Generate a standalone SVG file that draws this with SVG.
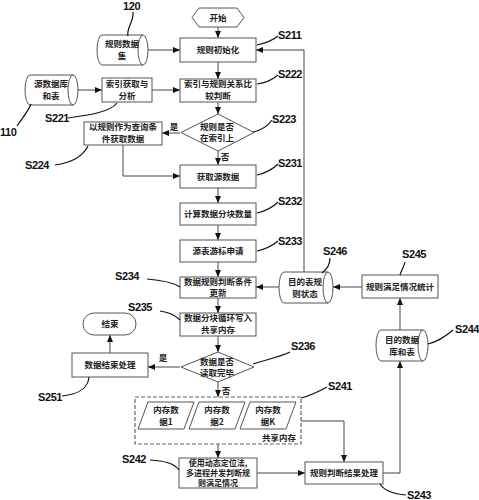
<svg xmlns="http://www.w3.org/2000/svg" width="479" height="500" viewBox="0 0 479 500">
<defs>
<marker id="ah" markerWidth="7" markerHeight="6" refX="7" refY="3" orient="auto" markerUnits="userSpaceOnUse">
<path d="M0,0 L7,3 L0,6 Z" fill="#111"/>
</marker>
<style>
.n{fill:#fff;stroke:#555;stroke-width:1}
.t{font-family:"Noto Sans CJK SC","Noto Sans",sans-serif;font-size:8.5px;font-weight:bold;fill:#222;text-anchor:middle}
.s{font-size:8px}
.c{fill:none;stroke:#444;stroke-width:1;marker-end:url(#ah)}
.l{fill:none;stroke:#111;stroke-width:1.2}
.lb{font-family:"Liberation Sans",Arial,sans-serif;font-size:11px;font-weight:bold;fill:#111;letter-spacing:-0.4px}
</style>
</defs>
<rect width="479" height="500" fill="#fff"/>

<g id="connectors">
<path class="c" d="M218,27 V38"/>
<path class="c" d="M148,50 H180"/>
<path class="c" d="M218,62 V79"/>
<path class="c" d="M78,90 H102"/>
<path class="c" d="M152,90 H180"/>
<path class="c" d="M218,102 V114"/>
<path class="c" d="M180,133 H162"/>
<path class="c" d="M218,151 V165"/>
<path class="c" d="M123,145 V176 H180"/>
<path class="c" d="M218,188 V203"/>
<path class="c" d="M218,225 V240"/>
<path class="c" d="M218,262 V277"/>
<path class="c" d="M218,298 V313"/>
<path class="c" d="M218,336 V352"/>
<path class="c" d="M180,367 H148"/>
<path class="c" d="M110,353 V335"/>
<path class="c" d="M218,382 V397"/>
<path class="c" d="M218,444 V458"/>
<path class="c" d="M257,473 H305"/>
<path class="c" d="M301,421 H344 V462"/>
<path class="c" d="M383,473 H400 V361"/>
<path class="c" d="M400,330 V298"/>
<path class="c" d="M362,287 H333"/>
<path class="c" d="M279,287 H256"/>
<path class="c" d="M304,272 V50 H256"/>
<text class="t" x="174" y="130">是</text>
<text class="t" x="225" y="160">否</text>
<text class="t" x="163" y="361">是</text>
<text class="t" x="226" y="394">否</text>
</g>

<g id="start">
<polygon class="n" points="192,17.5 199,8 237,8 244,17.5 237,27 199,27"/>
<text class="t" x="218" y="21">开始</text>
</g>

<g id="n120">
<path class="n" d="M102,35 H143 A5,15 0 0 1 143,65 H102 A5,15 0 0 1 102,35 Z M143,35 A5,15 0 0 0 143,65"/>
<text class="t" x="122" y="47">规则数据</text>
<text class="t" x="122" y="59">集</text>
</g>

<g id="S211">
<rect class="n" x="180" y="38" width="76" height="24"/>
<text class="t" x="218" y="53">规则初始化</text>
</g>

<g id="n110">
<path class="n" d="M30,75 H73 A5,15 0 0 1 73,105 H30 A5,15 0 0 1 30,75 Z M73,75 A5,15 0 0 0 73,105"/>
<text class="t" x="51" y="87">源数据库</text>
<text class="t" x="51" y="99">和表</text>
</g>

<g id="S221">
<rect class="n" x="102" y="78" width="50" height="24"/>
<text class="t" x="127" y="87">索引获取与</text>
<text class="t" x="127" y="99">分析</text>
</g>

<g id="S222">
<rect class="n" x="180" y="79" width="76" height="23"/>
<text class="t" x="218" y="87">索引与规则关系比</text>
<text class="t" x="218" y="98.5">较判断</text>
</g>

<g id="S223">
<polygon class="n" points="218,114 254,132.5 218,151 181,132.5"/>
<text class="t" x="217" y="129.5">规则是否</text>
<text class="t" x="217" y="141">在索引上</text>
</g>

<g id="S224">
<rect class="n" x="84" y="122" width="78" height="23"/>
<text class="t" x="123" y="130">以规则作为查询条</text>
<text class="t" x="123" y="141.5">件获取数据</text>
</g>

<g id="S231">
<rect class="n" x="180" y="165" width="76" height="23"/>
<text class="t" x="218" y="179.5">获取源数据</text>
</g>

<g id="S232">
<rect class="n" x="180" y="203" width="76" height="22"/>
<text class="t" x="218" y="217">计算数据分块数量</text>
</g>

<g id="S233">
<rect class="n" x="180" y="240" width="76" height="22"/>
<text class="t" x="218" y="254">源表游标申请</text>
</g>

<g id="S234">
<rect class="n" x="180" y="277" width="76" height="21"/>
<text class="t" x="218" y="285">数据规则判断条件</text>
<text class="t" x="218" y="296">更新</text>
</g>

<g id="S235">
<rect class="n" x="180" y="313" width="76" height="23"/>
<text class="t" x="218" y="321">数据分块循环写入</text>
<text class="t" x="218" y="332.5">共享内存</text>
</g>

<g id="S236">
<polygon class="n" points="218,352 254,367 218,382 181,367"/>
<text class="t" x="217" y="364.5">数据是否</text>
<text class="t" x="217" y="376">读取完毕</text>
</g>

<g id="end">
<rect class="n" x="83" y="313" width="53" height="22" rx="11" ry="11"/>
<text class="t" x="110" y="327">结束</text>
</g>

<g id="S251">
<rect class="n" x="72" y="353" width="76" height="24"/>
<text class="t" x="110" y="368">数据结束处理</text>
</g>

<g id="S241">
<rect x="135" y="397" width="166" height="47" fill="none" stroke="#666" stroke-width="1.2" stroke-dasharray="4,2"/>
<polygon class="n" points="148,402 194,402 184,429 138,429"/>
<text class="t" x="166" y="413">内存数</text>
<text class="t" x="166" y="425">据1</text>
<polygon class="n" points="199,402 245,402 235,429 189,429"/>
<text class="t" x="217" y="413">内存数</text>
<text class="t" x="217" y="425">据2</text>
<polygon class="n" points="250,402 296,402 286,429 240,429"/>
<text class="t" x="268" y="413">内存数</text>
<text class="t" x="268" y="425">据K</text>
<text class="t" x="279" y="441">共享内存</text>
</g>

<g id="S242">
<rect class="n" x="179" y="458" width="78" height="30"/>
<text class="t s" x="218" y="466">使用动态定位法,</text>
<text class="t s" x="218" y="476">多进程并发判断规</text>
<text class="t s" x="218" y="486">则满足情况</text>
</g>

<g id="S243">
<rect class="n" x="305" y="462" width="78" height="22"/>
<text class="t" x="344" y="476">规则判断结果处理</text>
</g>

<g id="S244">
<path class="n" d="M381,330 H423 A5,15.5 0 0 1 423,361 H381 A5,15.5 0 0 1 381,330 Z M423,330 A5,15.5 0 0 0 423,361"/>
<text class="t" x="402" y="343">目的数据</text>
<text class="t" x="402" y="355">库和表</text>
</g>

<g id="S245">
<rect class="n" x="362" y="275" width="76" height="23"/>
<text class="t" x="400" y="289.5">规则满足情况统计</text>
</g>

<g id="S246">
<path class="n" d="M284,272 H328 A5,15.5 0 0 1 328,303 H284 A5,15.5 0 0 1 284,272 Z M328,272 A5,15.5 0 0 0 328,303"/>
<text class="t" x="305" y="285">目的表规</text>
<text class="t" x="305" y="297">则状态</text>
</g>

<g id="labels">
<text class="lb" x="123" y="10">120</text>
<path class="l" d="M133,12 C134,22 126,28 128,36"/>
<text class="lb" x="0" y="136">110</text>
<path class="l" d="M17,126 C22,118 28,112 31,104"/>
<text class="lb" x="45" y="122">S221</text>
<path class="l" d="M68,118 C90,115 110,112 117,103"/>
<text class="lb" x="25" y="169">S224</text>
<path class="l" d="M55,165 C70,163 82,158 88,146"/>
<text class="lb" x="278" y="39">S211</text>
<path class="l" d="M257,45 C266,43 272,41 278,36"/>
<text class="lb" x="278" y="78">S222</text>
<path class="l" d="M257,84 C266,83 272,80 278,75"/>
<text class="lb" x="272" y="123">S223</text>
<path class="l" d="M253,132 C262,130 268,126 272,120"/>
<text class="lb" x="278" y="167">S231</text>
<path class="l" d="M257,175 C266,173 272,170 278,164"/>
<text class="lb" x="278" y="205">S232</text>
<path class="l" d="M257,213 C266,211 272,208 278,202"/>
<text class="lb" x="278" y="245">S233</text>
<path class="l" d="M257,251 C266,249 272,246 278,241"/>
<text class="lb" x="115" y="280">S234</text>
<path class="l" d="M147,279 C160,280 172,282 180,287"/>
<text class="lb" x="128" y="311">S235</text>
<path class="l" d="M160,311 C168,312 175,315 180,320"/>
<text class="lb" x="291" y="350">S236</text>
<path class="l" d="M290,352 C280,357 265,360 253,364"/>
<text class="lb" x="323" y="255">S246</text>
<path class="l" d="M330,258 C330,265 326,270 322,273"/>
<text class="lb" x="402" y="258">S245</text>
<path class="l" d="M405,262 C404,267 401,271 400,275"/>
<text class="lb" x="455" y="333">S244</text>
<path class="l" d="M453,330 C445,337 436,342 428,344"/>
<text class="lb" x="328" y="390">S241</text>
<path class="l" d="M327,387 C318,392 309,396 301,398"/>
<text class="lb" x="122" y="463">S242</text>
<path class="l" d="M150,460 C164,461 174,463 179,470"/>
<text class="lb" x="407" y="499">S243</text>
<path class="l" d="M406,495 C392,494 384,490 380,484"/>
<text class="lb" x="38" y="401">S251</text>
<path class="l" d="M62,396 C80,394 88,388 89,377"/>
</g>
</svg>
